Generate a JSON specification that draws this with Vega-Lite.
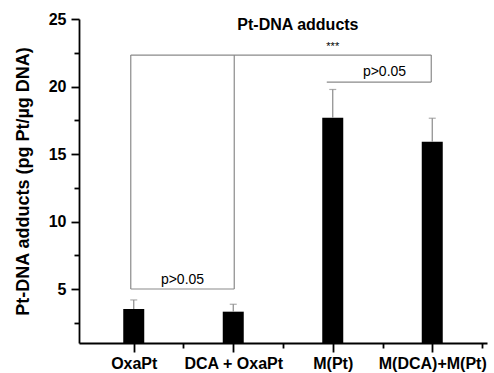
{
  "$schema": "https://vega.github.io/schema/vega-lite/v6.json",
  "width": 408,
  "height": 324,
  "autosize": {"type": "none"},
  "padding": {"left": 79, "top": 19, "right": 7, "bottom": 30},
  "background": "white",
  "config": {
    "view": {"stroke": null},
    "font": "Liberation Sans",
    "axis": {"grid": false, "domainColor": "black", "tickColor": "black", "domainWidth": 1.8, "tickWidth": 1.8, "labelFont": "Liberation Sans", "labelFontWeight": "bold", "labelColor": "black", "titleColor": "black", "titleFont": "Liberation Sans", "titleFontWeight": "bold"}
  },
  "datasets": {
    "bars": [
      {"pos": 1, "group": "OxaPt", "mean": 3.52, "err": 4.19},
      {"pos": 2, "group": "DCA + OxaPt", "mean": 3.32, "err": 3.87},
      {"pos": 3, "group": "M(Pt)", "mean": 17.68, "err": 19.78},
      {"pos": 4, "group": "M(DCA)+M(Pt)", "mean": 15.9, "err": 17.65}
    ],
    "segments": [
      {"x": 0.97, "x2": 0.97, "y": 5.0, "y2": 22.33},
      {"x": 2.01, "x2": 2.01, "y": 5.0, "y2": 22.33},
      {"x": 0.97, "x2": 2.01, "y": 5.0, "y2": 5.0},
      {"x": 0.97, "x2": 3.99, "y": 22.33, "y2": 22.33},
      {"x": 3.99, "x2": 3.99, "y": 20.33, "y2": 22.33},
      {"x": 2.94, "x2": 3.99, "y": 20.33, "y2": 20.33}
    ],
    "notes": [
      {"x": 3.0, "y": 22.9, "label": "***", "size": 11},
      {"x": 3.52, "y": 21.07, "label": "p>0.05", "size": 14},
      {"x": 1.49, "y": 5.67, "label": "p>0.05", "size": 14}
    ],
    "heading": [
      {"x": 2.65, "y": 24.55, "label": "Pt-DNA adducts"}
    ]
  },
  "resolve": {"axis": {"x": "independent", "y": "independent"}},
  "layer": [
    {
      "data": {"name": "bars"},
      "mark": {"type": "bar", "color": "black", "size": 21},
      "encoding": {
        "x": {
          "field": "pos", "type": "quantitative",
          "scale": {"domain": [0.5, 4.5], "nice": false, "zero": false},
          "axis": {
            "orient": "bottom",
            "title": null,
            "values": [1, 2, 3, 4],
            "labelExpr": "datum.value == 1 ? 'OxaPt' : datum.value == 2 ? 'DCA + OxaPt' : datum.value == 3 ? 'M(Pt)' : 'M(DCA)+M(Pt)'",
            "labelFontSize": 16,
            "labelFontWeight": "bold",
            "labelPadding": 3,
            "labelFlush": false,
            "labelOverlap": false,
            "tickSize": 9
          }
        },
        "y": {
          "field": "mean", "type": "quantitative",
          "scale": {"domain": [1, 25], "nice": false, "zero": false},
          "axis": {
            "orient": "left",
            "title": "Pt-DNA adducts (pg Pt/µg DNA)",
            "titleFontSize": 18,
            "titleFontWeight": "bold",
            "titlePadding": 16,
            "values": [5, 10, 15, 20, 25],
            "labelFontSize": 16,
            "labelFontWeight": "bold",
            "labelPadding": 5,
            "labelFlush": false,
            "labelOverlap": false,
            "tickSize": 8
          }
        },
        "y2": {"datum": 1}
      }
    },
    {
      "data": {"name": "bars"},
      "mark": {"type": "rule", "color": "#8a8a8a", "strokeWidth": 1.2},
      "encoding": {
        "x": {
          "field": "pos", "type": "quantitative",
          "axis": {"orient": "bottom", "title": null, "values": [1.5, 2.5, 3.5, 4.5], "labels": false, "domain": false, "tickSize": 5}
        },
        "y": {
          "field": "mean", "type": "quantitative",
          "axis": {"orient": "left", "title": null, "values": [2.5, 7.5, 12.5, 17.5, 22.5], "labels": false, "domain": false, "tickSize": 5}
        },
        "y2": {"field": "err"}
      }
    },
    {
      "data": {"name": "bars"},
      "mark": {"type": "tick", "color": "#8a8a8a", "size": 7, "thickness": 1.2, "orient": "horizontal"},
      "encoding": {
        "x": {"field": "pos", "type": "quantitative", "axis": null},
        "y": {"field": "err", "type": "quantitative", "axis": null}
      }
    },
    {
      "data": {"name": "segments"},
      "mark": {"type": "rule", "color": "#8a8a8a", "strokeWidth": 1.2},
      "encoding": {
        "x": {"field": "x", "type": "quantitative", "axis": null},
        "x2": {"field": "x2"},
        "y": {"field": "y", "type": "quantitative", "axis": null},
        "y2": {"field": "y2"}
      }
    },
    {
      "data": {"name": "notes"},
      "mark": {"type": "text", "color": "black", "font": "Liberation Sans", "baseline": "middle", "align": "center"},
      "encoding": {
        "x": {"field": "x", "type": "quantitative", "axis": null},
        "y": {"field": "y", "type": "quantitative", "axis": null},
        "text": {"field": "label"},
        "size": {"field": "size", "type": "quantitative", "scale": null}
      }
    },
    {
      "data": {"name": "heading"},
      "mark": {"type": "text", "color": "black", "font": "Liberation Sans", "fontWeight": "bold", "fontSize": 16, "baseline": "middle", "align": "center"},
      "encoding": {
        "x": {"field": "x", "type": "quantitative", "axis": null},
        "y": {"field": "y", "type": "quantitative", "axis": null},
        "text": {"field": "label"}
      }
    }
  ]
}
